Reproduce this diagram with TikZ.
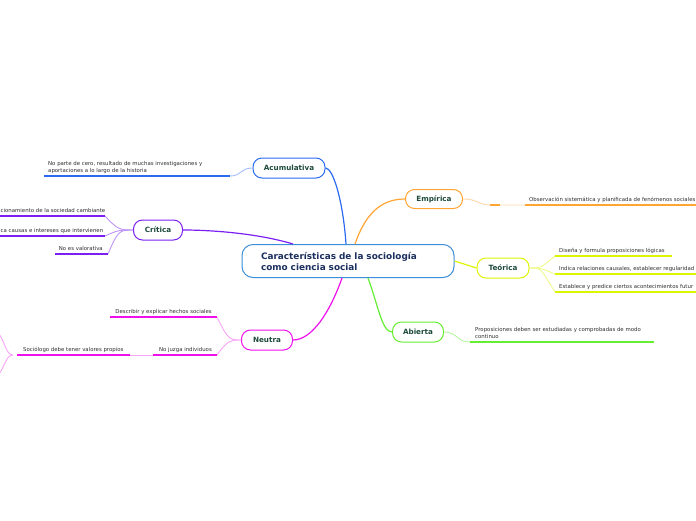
\documentclass[tikz,border=0pt]{standalone}
\usepackage{fontspec}
\setmainfont{DejaVu Sans}
\definecolor{azul}{HTML}{2B6BF3}
\definecolor{azulclaro}{HTML}{A3BDFA}
\definecolor{violeta}{HTML}{7B1FF2}
\definecolor{violetaclaro}{HTML}{BE94F8}
\definecolor{magenta}{HTML}{EE11EE}
\definecolor{magentaclaro}{HTML}{F6A4F6}
\definecolor{naranja}{HTML}{FFA533}
\definecolor{naranjaclaro}{HTML}{FFD6A6}
\definecolor{amarillo}{HTML}{DDF500}
\definecolor{amarilloclaro}{HTML}{EEFA8C}
\definecolor{verde}{HTML}{66EE33}
\definecolor{verdeclaro}{HTML}{B6F5A0}
\definecolor{centroborde}{HTML}{3A8FD8}
\definecolor{centrotexto}{HTML}{1B2F5E}
\definecolor{ramatexto}{HTML}{1E4A3C}
\definecolor{hojatexto}{HTML}{2E2E2E}
\tikzset{
  rama/.style={draw, line width=1pt, rounded corners=9pt, fill=white, minimum height=20pt,
    inner sep=0pt, font=\fontsize{7.2}{8}\selectfont\bfseries, text=ramatexto},
  hoja/.style={inner sep=0pt, font=\fontsize{5.4}{7}\selectfont, text=hojatexto, align=left},
  enlace/.style={line width=1.2pt},
  suave/.style={line width=0.9pt},
  linea/.style={line width=1.8pt}
}
\begin{document}
\begin{tikzpicture}[x=1pt,y=-1pt]
   \useasboundingbox (0,0) rectangle (696,520);
   \clip (0,0) rectangle (696,520);

    % Nodo central
    \node[draw=centroborde, line width=1pt, rounded corners=11pt, fill=white, text width=174pt,
      minimum height=33pt, inner xsep=19pt, inner ysep=0pt, text=centrotexto, align=left,
      font=\fontsize{8.9}{11}\selectfont\bfseries] (centro) at (348,261)
      {Características de la sociología\\como ciencia social};

    % Ramas
    \node[rama, draw=azul, minimum width=72pt] (acum) at (289,168) {Acumulativa};
    \node[rama, draw=violeta, minimum width=49pt] (crit) at (158,230) {Crítica};
    \node[rama, draw=magenta, minimum width=51pt] (neut) at (267,340) {Neutra};
    \node[rama, draw=naranja, minimum width=57pt, minimum height=19pt] (empi) at (434,199) {Empírica};
    \node[rama, draw=amarillo, minimum width=52pt] (teor) at (503,268) {Teórica};
    \node[rama, draw=verde, minimum width=51pt] (abie) at (418,332) {Abierta};

    \draw[enlace,azul] ([xshift=-2pt]centro.north) .. controls (343,200) and (333,168) .. (acum.east);
    \draw[enlace,violeta] ([xshift=-55pt]centro.north) .. controls (260,234) and (215,230) .. (crit.east);
    \draw[enlace,naranja] ([xshift=7pt]centro.north) .. controls (365,215) and (380,199) .. (empi.west);
    \draw[enlace,amarillo] (centro.east) -- (teor.west);
    \draw[enlace,magenta] ([xshift=-6pt]centro.south) .. controls (330,312) and (312,340) .. (neut.east);
    \draw[enlace,verde] ([xshift=20pt]centro.south) .. controls (378,305) and (382,332) .. (abie.west);

    % Acumulativa
    \coordinate (a1i) at (44,176); \coordinate (a1d) at (230,176);
    \draw[suave,azulclaro] (acum.west) .. controls (240,168) and (242,176) .. (a1d);
    \draw[linea,azul] (a1i) -- (a1d);
    \node[hoja, anchor=south west] (a1) at (48,174) {No parte de cero, resultado de muchas investigaciones y\\aportaciones a lo largo de la historia};

    % Crítica
    \coordinate (c1i) at (0,216); \coordinate (c1d) at (105,216);
    \coordinate (c2i) at (0,236); \coordinate (c2d) at (105,236);
    \coordinate (c3i) at (55,254); \coordinate (c3d) at (108,254);
    \foreach \c in {c1d,c2d,c3d}
      \draw[suave,violetaclaro] (crit.west) .. controls (120,230) and (118,230) .. (\c);
    \foreach \a/\b in {c1i/c1d,c2i/c2d,c3i/c3d}
      \draw[linea,violeta] (\a) -- (\b);
    \node[hoja, anchor=base west] (c1) at (0.5,212) {cionamiento de la sociedad cambiante};
    \node[hoja, anchor=base west] (c2) at (0.5,232) {ca causas e intereses que intervienen};
    \node[hoja, anchor=base east] (c3) at (103,250) {No es valorativa};

    % Empírica
    \coordinate (e1a) at (490,205); \coordinate (e1b) at (500,205);
    \coordinate (e1i) at (525,205); \coordinate (e1d) at (700,205);
    \draw[suave,naranjaclaro] (empi.east) .. controls (478,199) and (478,205) .. (e1a) -- (e1i);
    \draw[linea,naranja] (e1a) -- (e1b);
    \draw[linea,naranja] (e1i) -- (e1d);
    \node[hoja, anchor=base west] (e1) at (529,201) {Observación sistemática y planificada de fenómenos sociales};

    % Teórica
    \coordinate (t1i) at (555,256); \coordinate (t1d) at (672,256);
    \coordinate (t2i) at (555,274); \coordinate (t2d) at (700,274);
    \coordinate (t3i) at (555,292); \coordinate (t3d) at (700,292);
    \foreach \c in {t1i,t2i,t3i}
      \draw[suave,amarilloclaro] (teor.east) .. controls (542,268) and (540,268) .. (\c);
    \foreach \a/\b in {t1i/t1d,t2i/t2d,t3i/t3d}
      \draw[linea,amarillo] (\a) -- (\b);
    \node[hoja, anchor=base west] (t1) at (559,252) {Diseña y formula proposiciones lógicas};
    \node[hoja, anchor=base west] (t2) at (559,270) {Indica relaciones causales, establecer regularidad};
    \node[hoja, anchor=base west] (t3) at (559,288) {Establece y predice ciertos acontecimientos futur};

    % Abierta
    \coordinate (b1i) at (470,342); \coordinate (b1d) at (654,342);
    \draw[suave,verdeclaro] (abie.east) .. controls (458,332) and (456,342) .. (b1i);
    \draw[linea,verde] (b1i) -- (b1d);
    \node[hoja, anchor=south west] (b1) at (475,339) {Proposiciones deben ser estudiadas y comprobadas de modo\\continuo};

    % Neutra
    \coordinate (n1i) at (110,317); \coordinate (n1d) at (217,317);
    \coordinate (n2i) at (153,355); \coordinate (n2d) at (217,355);
    \coordinate (n3i) at (13,355); \coordinate (n3d) at (130,355);
    \foreach \c in {n1d,n2d}
      \draw[suave,magentaclaro] (neut.west) .. controls (230,340) and (228,340) .. (\c);
    \draw[linea,magenta] (n1i) -- (n1d);
    \draw[linea,magenta] (n2i) -- (n2d);
    \draw[suave,magentaclaro] (n3d) -- (n2i);
    \draw[linea,magenta] ([xshift=4pt]n3i) -- (n3d);
    \draw[suave,magentaclaro] (n3i) .. controls (6,355) and (5,342) .. (-1,334);
    \draw[suave,magentaclaro] (n3i) .. controls (6,355) and (5,366) .. (-1,374);
    \node[hoja, anchor=base east] (n1) at (212,313) {Describir y explicar hechos sociales};
    \node[hoja, anchor=base east] (n2) at (212,351) {No juzga individuos};
    \node[hoja, anchor=base west] (n3) at (23,351) {Sociólogo debe tener valores propios};

\end{tikzpicture}
\end{document}
